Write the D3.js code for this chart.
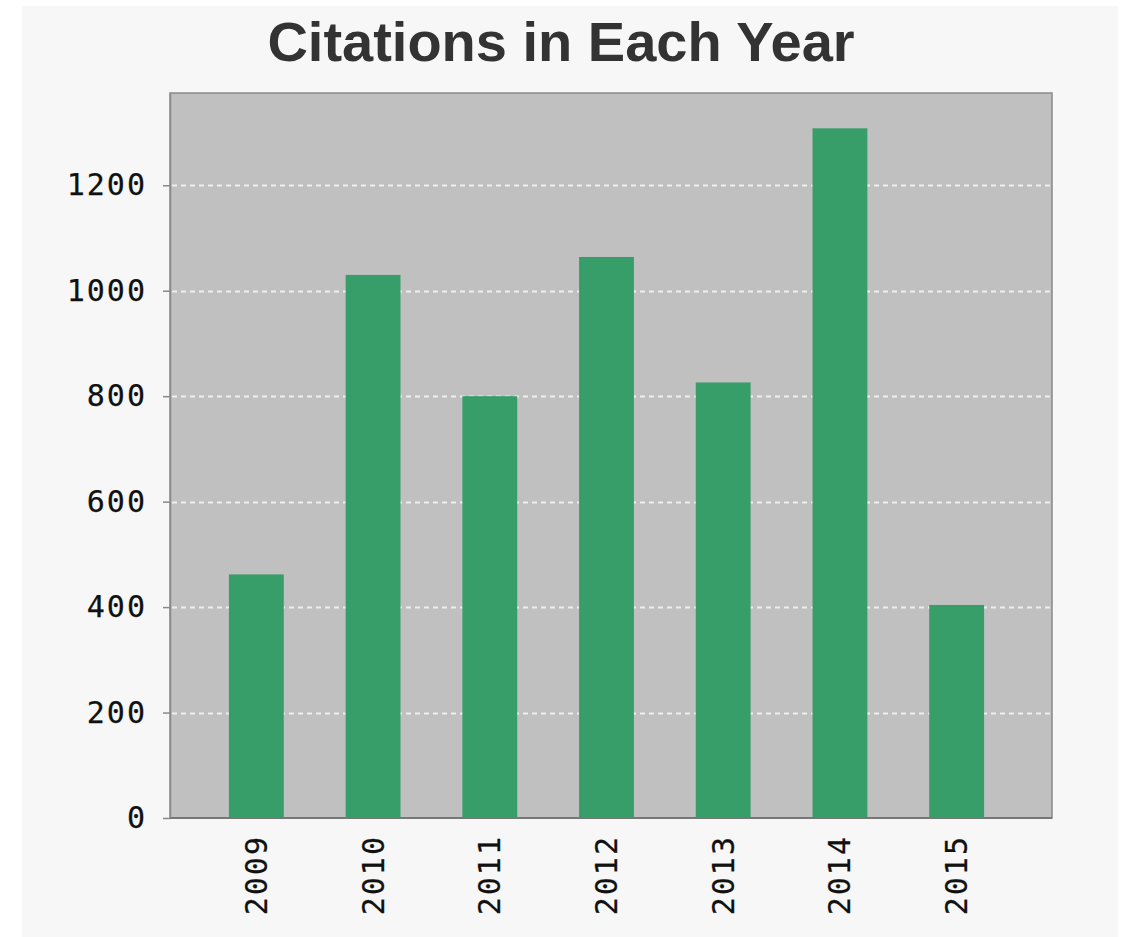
<!DOCTYPE html>
<html>
<head>
<meta charset="utf-8">
<script src="https://cdn.jsdelivr.net/npm/d3@7"></script>
<style>
  body { margin: 0; background: #ffffff; }
  svg { display: block; }
</style>
</head>
<body>
<div id="chart"></div>
<script>
// values
var years = ["2009", "2010", "2011", "2012", "2013", "2014", "2015"];
var citations = [462, 1030, 800, 1064, 826, 1308, 404];
var yTicks = [0, 200, 400, 600, 800, 1000, 1200];
var title = "Citations in Each Year";

var width = 1129, height = 937;
var plot = { left: 170, top: 93, right: 1052, bottom: 818 };

var svg = d3.select("#chart").append("svg")
	.attr("width", width)
	.attr("height", height);

// light panel behind everything
svg.append("rect")
	.attr("x", 22).attr("y", 6)
	.attr("width", 1096).attr("height", height - 6)
	.attr("fill", "#f7f7f7");

svg.append("text")
	.attr("x", 561)
	.attr("y", 61)
	.attr("text-anchor", "middle")
	.style("font-family", "'Liberation Sans', Arial, sans-serif")
	.style("font-weight", "bold")
	.style("font-size", "56px")
	.style("fill", "#333333")
	.text(title);

var x = d3.scaleBand()
	.domain(years)
	.range([198, 1015])
	.paddingInner(0.53)
	.paddingOuter(0.265);

var y = d3.scaleLinear()
	.domain([0, 1375])
	.range([plot.bottom, plot.top]);

// plot background
svg.append("rect")
	.attr("x", plot.left).attr("y", plot.top)
	.attr("width", plot.right - plot.left)
	.attr("height", plot.bottom - plot.top)
	.attr("fill", "#c0c0c0")
	.attr("stroke", "#8a8a8a")
	.attr("stroke-width", 1.5);

// dashed white grid
svg.append("g")
	.selectAll("line")
	.data(yTicks.filter(function(d) { return d > 0; }))
	.enter()
	.append("line")
	.attr("x1", plot.left + 2)
	.attr("x2", plot.right - 2)
	.attr("y1", function(d) { return Math.round(y(d)) + 0.5; })
	.attr("y2", function(d) { return Math.round(y(d)) + 0.5; })
	.attr("stroke", "#eeeeee")
	.attr("stroke-width", 2)
	.attr("stroke-dasharray", "5,4");

// bars
svg.append("g")
	.selectAll("rect")
	.data(citations)
	.enter()
	.append("rect")
	.attr("x", function(d, i) { return x(years[i]); })
	.attr("width", x.bandwidth())
	.attr("y", function(d) { return y(d); })
	.attr("height", function(d) { return y(0) - y(d); })
	.attr("fill", "#389e69");

// y axis
var yAxis = svg.append("g")
	.attr("transform", "translate(" + plot.left + ",0)")
	.call(d3.axisLeft(y).tickValues(yTicks).tickFormat(d3.format("d"))
		.tickSize(7).tickSizeOuter(0).tickPadding(16));
yAxis.select(".domain").attr("stroke", "#8a8a8a").attr("stroke-width", 1.5);
yAxis.selectAll(".tick line").attr("stroke", "#8a8a8a").attr("stroke-width", 1.5);
yAxis.selectAll("text")
	.style("font-family", "'DejaVu Sans Mono', monospace")
	.style("font-size", "30px")
	.style("letter-spacing", "2px")
	.style("stroke", "#111111")
	.style("stroke-width", 0.25)
	.style("fill", "#111111");

// x axis
var xAxis = svg.append("g")
	.attr("transform", "translate(0," + plot.bottom + ")")
	.call(d3.axisBottom(x).tickSize(0).tickPadding(0));
xAxis.select(".domain")
	.attr("d", "M" + plot.left + ",0H" + plot.right)
	.attr("stroke", "#777777").attr("stroke-width", 2);
xAxis.selectAll("text")
	.attr("transform", "rotate(-90)")
	.attr("x", -17)
	.attr("y", 0)
	.attr("dy", "0.35em")
	.attr("text-anchor", "end")
	.style("font-family", "'DejaVu Sans Mono', monospace")
	.style("font-size", "30px")
	.style("letter-spacing", "2px")
	.style("stroke", "#111111")
	.style("stroke-width", 0.25)
	.style("fill", "#111111");
</script>
</body>
</html>
